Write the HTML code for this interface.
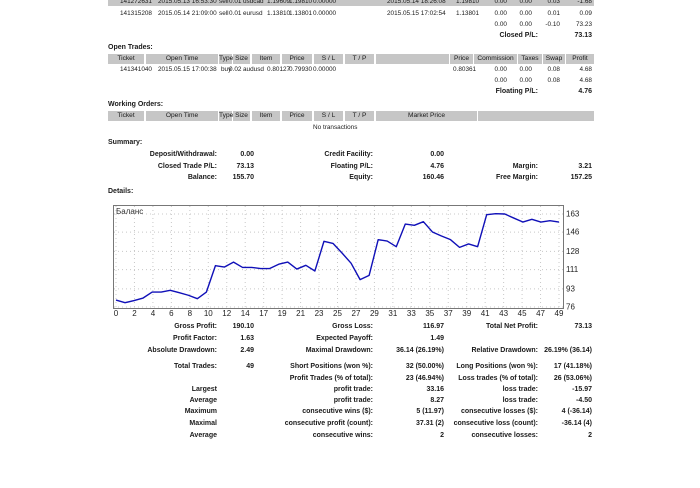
<!DOCTYPE html>
<html><head><meta charset="utf-8">
<style>
body{margin:0;width:700px;height:488px;background:#fff;position:relative;overflow:hidden;font-family:"Liberation Sans",Tahoma,sans-serif;font-size:7px;color:#1a1a1a}
span{position:absolute;white-space:nowrap;line-height:9px;font-size:6.4px}
span.b{font-size:7px}
.b{font-weight:bold}
.r{text-align:right}
.h{position:absolute;background:#c6c6c6;height:10px;text-align:center;line-height:10px;font-size:6.6px}
svg{position:absolute;left:100px;top:198px}
</style></head><body>
<!-- top closed trades -->
<div class="h" style="left:108px;top:-3px;width:486px;height:9px"></div>
<span style="left:120px;top:-3px">141272631</span>
<span style="left:158px;top:-3px">2015.05.13 16:53:30</span>
<span style="left:219px;top:-3px">sell</span>
<span style="left:229px;top:-3px">0.01</span>
<span style="left:243px;top:-3px">usdcad</span>
<span style="left:267px;top:-3px">1.19609</span>
<span style="left:289px;top:-3px">1.19810</span>
<span style="left:313px;top:-3px">0.00000</span>
<span style="left:387px;top:-3px">2015.05.14 18:26:08</span>
<span style="left:456px;top:-3px">1.19810</span>
<span class="r" style="right:193px;top:-3px">0.00</span>
<span class="r" style="right:168px;top:-3px">0.00</span>
<span class="r" style="right:140px;top:-3px">0.03</span>
<span class="r" style="right:108px;top:-3px">-1.68</span>

<span style="left:120px;top:9px">141315208</span>
<span style="left:158px;top:9px">2015.05.14 21:09:00</span>
<span style="left:219px;top:9px">sell</span>
<span style="left:229px;top:9px">0.01</span>
<span style="left:243px;top:9px">eurusd</span>
<span style="left:267px;top:9px">1.13810</span>
<span style="left:289px;top:9px">1.13801</span>
<span style="left:313px;top:9px">0.00000</span>
<span style="left:387px;top:9px">2015.05.15 17:02:54</span>
<span style="left:456px;top:9px">1.13801</span>
<span class="r" style="right:193px;top:9px">0.00</span>
<span class="r" style="right:168px;top:9px">0.00</span>
<span class="r" style="right:140px;top:9px">0.01</span>
<span class="r" style="right:108px;top:9px">0.09</span>

<span class="r" style="right:193px;top:20px">0.00</span>
<span class="r" style="right:168px;top:20px">0.00</span>
<span class="r" style="right:140px;top:20px">-0.10</span>
<span class="r" style="right:108px;top:20px">73.23</span>
<span class="r b" style="right:162px;top:31px">Closed P/L:</span>
<span class="r b" style="right:108px;top:31px">73.13</span>

<!-- open trades -->
<span class="b" style="left:108px;top:43px">Open Trades:</span>
<div class="h" style="left:108px;top:54px;width:36px">Ticket</div>
<div class="h" style="left:146px;top:54px;width:72px">Open Time</div>
<div class="h" style="left:219px;top:54px;width:13px">Type</div>
<div class="h" style="left:233px;top:54px;width:17px">Size</div>
<div class="h" style="left:252px;top:54px;width:28px">Item</div>
<div class="h" style="left:282px;top:54px;width:30px">Price</div>
<div class="h" style="left:314px;top:54px;width:29px">S / L</div>
<div class="h" style="left:345px;top:54px;width:29px">T / P</div>
<div class="h" style="left:376px;top:54px;width:73px"></div>
<div class="h" style="left:450px;top:54px;width:23px">Price</div>
<div class="h" style="left:474px;top:54px;width:43px">Commission</div>
<div class="h" style="left:518px;top:54px;width:24px">Taxes</div>
<div class="h" style="left:543px;top:54px;width:22px">Swap</div>
<div class="h" style="left:566px;top:54px;width:28px">Profit</div>
<span style="left:120px;top:65px">141341040</span>
<span style="left:158px;top:65px">2015.05.15 17:00:38</span>
<span style="left:221px;top:65px">buy</span>
<span style="left:229px;top:65px">0.02</span>
<span style="left:243px;top:65px">audusd</span>
<span style="left:267px;top:65px">0.80127</span>
<span style="left:289px;top:65px">0.79930</span>
<span style="left:313px;top:65px">0.00000</span>
<span style="left:453px;top:65px">0.80361</span>
<span class="r" style="right:193px;top:65px">0.00</span>
<span class="r" style="right:168px;top:65px">0.00</span>
<span class="r" style="right:140px;top:65px">0.08</span>
<span class="r" style="right:108px;top:65px">4.68</span>
<span class="r" style="right:193px;top:76px">0.00</span>
<span class="r" style="right:168px;top:76px">0.00</span>
<span class="r" style="right:140px;top:76px">0.08</span>
<span class="r" style="right:108px;top:76px">4.68</span>
<span class="r b" style="right:162px;top:87px">Floating P/L:</span>
<span class="r b" style="right:108px;top:87px">4.76</span>

<!-- working orders -->
<span class="b" style="left:108px;top:100px">Working Orders:</span>
<div class="h" style="left:108px;top:111px;width:36px">Ticket</div>
<div class="h" style="left:146px;top:111px;width:72px">Open Time</div>
<div class="h" style="left:219px;top:111px;width:13px">Type</div>
<div class="h" style="left:233px;top:111px;width:17px">Size</div>
<div class="h" style="left:252px;top:111px;width:28px">Item</div>
<div class="h" style="left:282px;top:111px;width:30px">Price</div>
<div class="h" style="left:314px;top:111px;width:29px">S / L</div>
<div class="h" style="left:345px;top:111px;width:29px">T / P</div>
<div class="h" style="left:376px;top:111px;width:101px">Market Price</div>
<div class="h" style="left:478px;top:111px;width:116px"></div>
<span style="left:313px;top:123px">No transactions</span>

<!-- summary -->
<span class="b" style="left:108px;top:138px">Summary:</span>
<span class="r b" style="right:483px;top:150px">Deposit/Withdrawal:</span>
<span class="r b" style="right:446px;top:150px">0.00</span>
<span class="r b" style="right:327px;top:150px">Credit Facility:</span>
<span class="r b" style="right:256px;top:150px">0.00</span>
<span class="r b" style="right:483px;top:162px">Closed Trade P/L:</span>
<span class="r b" style="right:446px;top:162px">73.13</span>
<span class="r b" style="right:327px;top:162px">Floating P/L:</span>
<span class="r b" style="right:256px;top:162px">4.76</span>
<span class="r b" style="right:162px;top:162px">Margin:</span>
<span class="r b" style="right:108px;top:162px">3.21</span>
<span class="r b" style="right:483px;top:173px">Balance:</span>
<span class="r b" style="right:446px;top:173px">155.70</span>
<span class="r b" style="right:327px;top:173px">Equity:</span>
<span class="r b" style="right:256px;top:173px">160.46</span>
<span class="r b" style="right:162px;top:173px">Free Margin:</span>
<span class="r b" style="right:108px;top:173px">157.25</span>
<span class="b" style="left:108px;top:187px">Details:</span>

<svg id="chart" width="480" height="125" viewBox="100 198 480 125"></svg>

<!-- stats -->
<span class="r b" style="right:483px;top:322px">Gross Profit:</span>
<span class="r b" style="right:446px;top:322px">190.10</span>
<span class="r b" style="right:327px;top:322px">Gross Loss:</span>
<span class="r b" style="right:256px;top:322px">116.97</span>
<span class="r b" style="right:162px;top:322px">Total Net Profit:</span>
<span class="r b" style="right:108px;top:322px">73.13</span>
<span class="r b" style="right:483px;top:334px">Profit Factor:</span>
<span class="r b" style="right:446px;top:334px">1.63</span>
<span class="r b" style="right:327px;top:334px">Expected Payoff:</span>
<span class="r b" style="right:256px;top:334px">1.49</span>
<span class="r b" style="right:483px;top:346px">Absolute Drawdown:</span>
<span class="r b" style="right:446px;top:346px">2.49</span>
<span class="r b" style="right:327px;top:346px">Maximal Drawdown:</span>
<span class="r b" style="right:256px;top:346px">36.14 (26.19%)</span>
<span class="r b" style="right:162px;top:346px">Relative Drawdown:</span>
<span class="r b" style="right:108px;top:346px">26.19% (36.14)</span>
<span class="r b" style="right:483px;top:362px">Total Trades:</span>
<span class="r b" style="right:446px;top:362px">49</span>
<span class="r b" style="right:327px;top:362px">Short Positions (won %):</span>
<span class="r b" style="right:256px;top:362px">32 (50.00%)</span>
<span class="r b" style="right:162px;top:362px">Long Positions (won %):</span>
<span class="r b" style="right:108px;top:362px">17 (41.18%)</span>
<span class="r b" style="right:327px;top:374px">Profit Trades (% of total):</span>
<span class="r b" style="right:256px;top:374px">23 (46.94%)</span>
<span class="r b" style="right:162px;top:374px">Loss trades (% of total):</span>
<span class="r b" style="right:108px;top:374px">26 (53.06%)</span>
<span class="r b" style="right:483px;top:385px">Largest</span>
<span class="r b" style="right:327px;top:385px">profit trade:</span>
<span class="r b" style="right:256px;top:385px">33.16</span>
<span class="r b" style="right:162px;top:385px">loss trade:</span>
<span class="r b" style="right:108px;top:385px">-15.97</span>
<span class="r b" style="right:483px;top:396px">Average</span>
<span class="r b" style="right:327px;top:396px">profit trade:</span>
<span class="r b" style="right:256px;top:396px">8.27</span>
<span class="r b" style="right:162px;top:396px">loss trade:</span>
<span class="r b" style="right:108px;top:396px">-4.50</span>
<span class="r b" style="right:483px;top:407px">Maximum</span>
<span class="r b" style="right:327px;top:407px">consecutive wins ($):</span>
<span class="r b" style="right:256px;top:407px">5 (11.97)</span>
<span class="r b" style="right:162px;top:407px">consecutive losses ($):</span>
<span class="r b" style="right:108px;top:407px">4 (-36.14)</span>
<span class="r b" style="right:483px;top:419px">Maximal</span>
<span class="r b" style="right:327px;top:419px">consecutive profit (count):</span>
<span class="r b" style="right:256px;top:419px">37.31 (2)</span>
<span class="r b" style="right:162px;top:419px">consecutive loss (count):</span>
<span class="r b" style="right:108px;top:419px">-36.14 (4)</span>
<span class="r b" style="right:483px;top:431px">Average</span>
<span class="r b" style="right:327px;top:431px">consecutive wins:</span>
<span class="r b" style="right:256px;top:431px">2</span>
<span class="r b" style="right:162px;top:431px">consecutive losses:</span>
<span class="r b" style="right:108px;top:431px">2</span>

<script>
const balance = [82.5,80,82,84.4,90,90,91.6,89.4,87,83.8,90,114.7,113.4,118,113,113,112,112,116,118,111.5,115,109.7,137.4,135.5,126.5,117,101.6,105.6,139,137.7,132.4,153.6,152.4,155.8,146.2,142.4,139,131.8,135,132.4,162.4,163.3,163,159.2,155.5,158,155.5,156.7,155.5];
const yTicks = [76,93,111,128,146,163];
const xTickLabels = ["0","2","4","6","8","10","12","14","17","19","21","23","25","27","29","31","33","35","37","39","41","43","45","47","49"];
const NS = "http://www.w3.org/2000/svg";
const svg = document.getElementById("chart");
const X0=116, X1=559, Y0=307, Y1=214, V0=76, V1=163;
function x(i){return X0+(X1-X0)*i/(balance.length-1);}
function y(v){return Y0-(v-V0)/(V1-V0)*(Y0-Y1);}
function mk(t,a){const e=document.createElementNS(NS,t);for(const k in a)e.setAttribute(k,a[k]);svg.appendChild(e);return e;}
const frame = mk("rect",{x:113.5,y:205.5,width:450,height:103,fill:"#fff",stroke:"#777","stroke-width":1});


yTicks.forEach(v=>{
  const g=mk("line",{x1:114,x2:563,y1:y(v),y2:y(v),stroke:"#c8c8c8","stroke-dasharray":"1,3"});
  
  
  const t=mk("text",{x:566,y:y(v)+2.5,"font-size":"8","font-family":"Liberation Sans, sans-serif",fill:"#222"});
  t.textContent=v;
  
  
});
xTickLabels.forEach((lab,k)=>{
  const px=X0+(X1-X0)*k/(xTickLabels.length-1);
  const g=mk("line",{x1:px,x2:px,y1:206,y2:308,stroke:"#c8c8c8","stroke-dasharray":"1,3"});
  
  
  const t=mk("text",{x:px,y:316,"font-size":"8","text-anchor":"middle","font-family":"Liberation Sans, sans-serif",fill:"#222"});
  t.textContent=lab;
  
  
});
const line=mk("polyline",{points:balance.map((v,i)=>x(i)+","+y(v)).join(" "),fill:"none",stroke:"#1010b8","stroke-width":1.4,"stroke-linejoin":"round"});


const lg=mk("text",{x:116,y:214,"font-size":"8","font-family":"Liberation Sans, sans-serif",fill:"#333"});
lg.textContent="Баланс";


</script>
</body></html>
